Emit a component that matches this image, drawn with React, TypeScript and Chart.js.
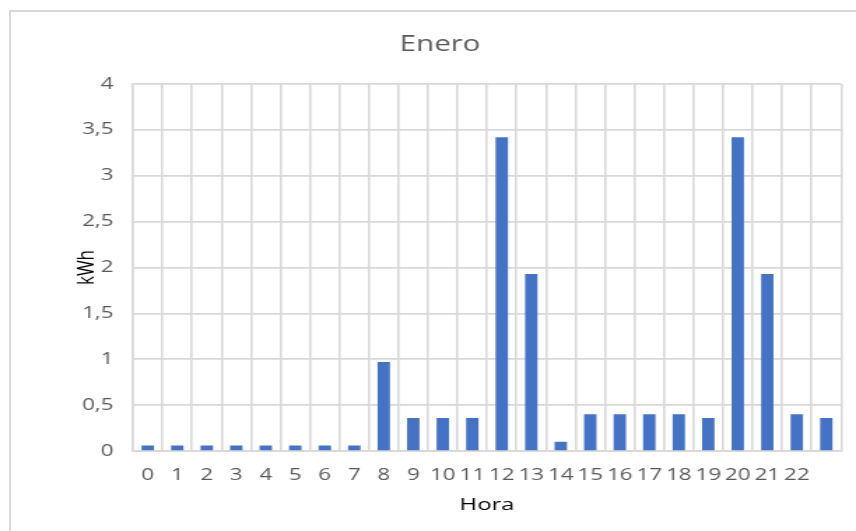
import React, { useEffect, useRef } from "react";
import { Chart, registerables } from "chart.js";

Chart.register(...registerables);

// Hourly consumption for January (kWh)
const horas: string[] = [
  "0", "1", "2", "3", "4", "5", "6", "7", "8", "9", "10", "11",
  "12", "13", "14", "15", "16", "17", "18", "19", "20", "21", "22", "",
];
const consumo: number[] = [
  0.06, 0.06, 0.06, 0.06, 0.06, 0.06, 0.06, 0.06, 0.97, 0.36, 0.36, 0.36,
  3.42, 1.93, 0.1, 0.4, 0.4, 0.4, 0.4, 0.36, 3.42, 1.93, 0.4, 0.36,
];
const yMin = 0;
const yMax = 4;
const yStep = 0.5;

const titulo = "Enero";
const tituloX = "Hora";
const tituloY = "kWh";

// The drawing is laid out in a narrower canvas and widened with a CSS scale.
const PAGE_W = 856;
const PAGE_H = 531;
const CANVAS_W = 612;
const SX = PAGE_W / CANVAS_W;

const FONT = "'Open Sans', 'Noto Sans', sans-serif";
const GRID = "#d9d9d9";
const TEXT = "#595959";
const BAR = "#4472C4";

export default function App() {
  const canvasRef = useRef<HTMLCanvasElement | null>(null);

  useEffect(() => {
    const canvas = canvasRef.current;
    if (!canvas) return;
    const chart = new Chart(canvas, {
      type: "bar",
      data: {
        labels: horas,
        datasets: [
          {
            data: consumo,
            backgroundColor: BAR,
            borderWidth: 0,
            categoryPercentage: 1,
            barPercentage: 0.42,
          },
        ],
      },
      options: {
        animation: false,
        responsive: true,
        maintainAspectRatio: false,
        layout: { padding: { left: 28, right: 10.7, top: 0, bottom: 0 } },
        plugins: {
          legend: { display: false },
          tooltip: { enabled: false },
          title: {
            display: true,
            text: titulo,
            color: TEXT,
            font: { family: FONT, size: 21, weight: "normal" },
            padding: { top: 32, bottom: 26.8 },
          },
        },
        scales: {
          x: {
            grid: { color: GRID, lineWidth: 1.6, drawTicks: false, offset: true },
            border: { color: GRID, width: 1.7 },
            ticks: {
              color: TEXT,
              font: { family: FONT, size: 16 },
              padding: 15,
              maxRotation: 0,
              autoSkip: false,
            },
            title: {
              display: true,
              text: tituloX,
              color: "#000",
              font: { family: FONT, size: 17 },
              padding: { top: 0, bottom: 16 },
            },
            afterFit: (scale: any) => {
              scale.height = 80;
            },
          },
          y: {
            min: yMin,
            max: yMax,
            grid: { color: GRID, lineWidth: 1.7, drawTicks: false },
            border: { color: GRID, width: 1.6 },
            ticks: {
              stepSize: yStep,
              color: TEXT,
              font: { family: FONT, size: 16 },
              padding: 14,
              callback: (v: any) => String(v).replace(".", ","),
            },
            title: {
              display: true,
              text: tituloY,
              color: "#000",
              font: { family: FONT, size: 17 },
              padding: { top: 23.5, bottom: 0 },
            },
            afterFit: (scale: any) => {
              scale.width = 95.1 - 28;
            },
          },
        },
      },
    });
    return () => chart.destroy();
  }, []);

  return (
    <div
      style={{
        position: "fixed",
        left: 0,
        top: 0,
        width: PAGE_W,
        height: PAGE_H,
        overflow: "hidden",
        background: "#fff",
      }}
    >
      <div
        style={{
          position: "absolute",
          left: 9,
          top: 10,
          width: PAGE_W,
          height: PAGE_H,
          borderLeft: `2px solid ${GRID}`,
          borderTop: `2px solid ${GRID}`,
        }}
      />
      <div
        style={{
          position: "absolute",
          left: 0,
          top: 0,
          width: CANVAS_W,
          height: PAGE_H,
          transform: `scaleX(${SX})`,
          transformOrigin: "0 0",
        }}
      >
        <canvas ref={canvasRef} />
      </div>
    </div>
  );
}
